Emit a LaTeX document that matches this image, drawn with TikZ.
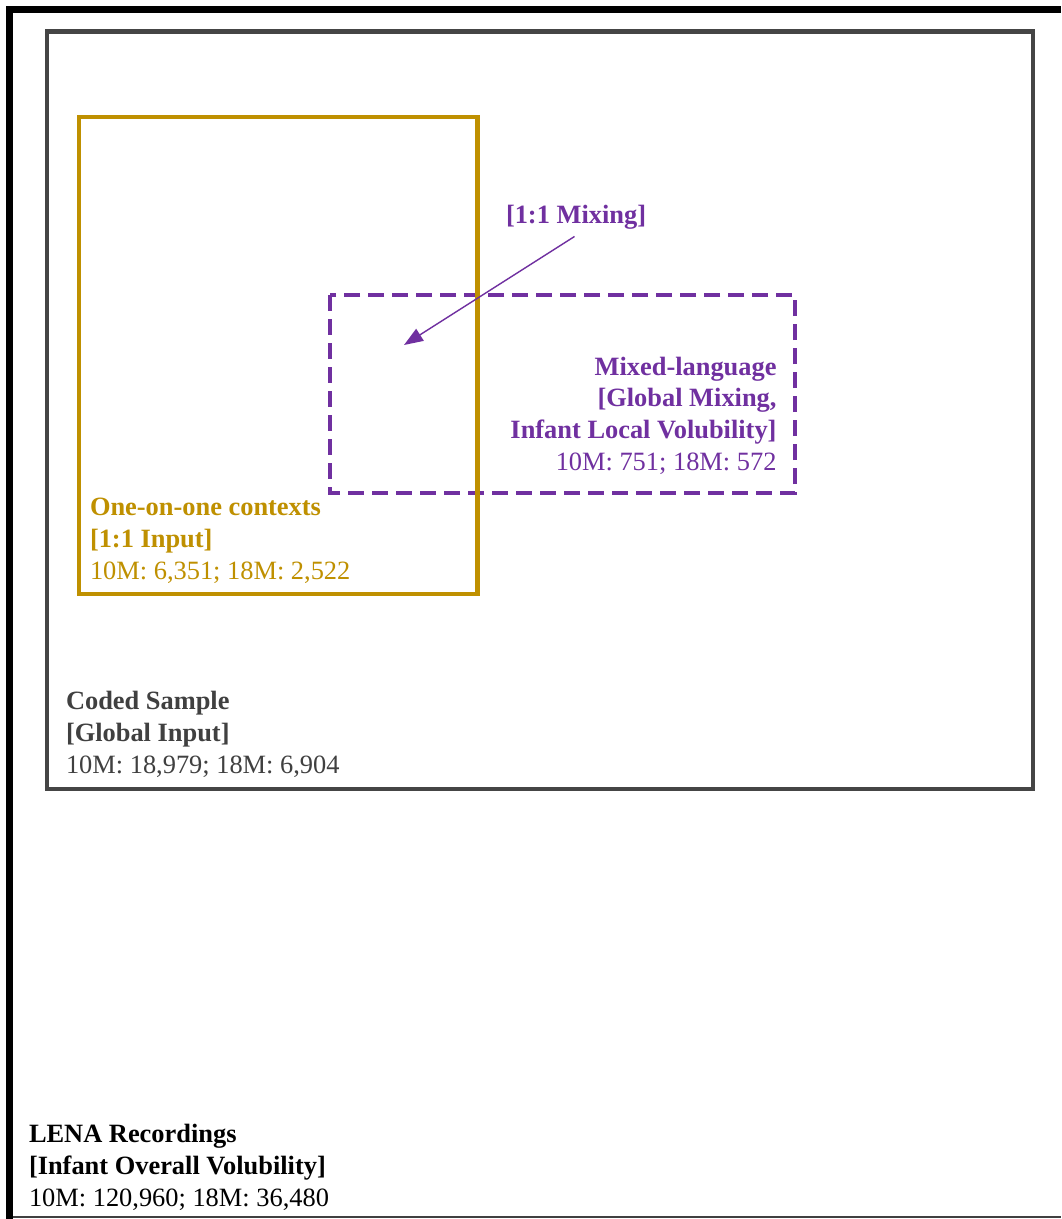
\documentclass[tikz,border=0pt]{standalone}
\usepackage{fontspec}
\setmainfont{Liberation Serif}
\usetikzlibrary{arrows.meta}
\definecolor{framegray}{HTML}{454545}
\definecolor{goldc}{HTML}{BF9000}
\definecolor{purplec}{HTML}{7030A0}
\definecolor{textgray}{HTML}{404040}
\tikzset{
  lbl/.style={inner sep=0pt, outer sep=0pt, font=\fontsize{26.4}{31.8}\selectfont},
}
\begin{document}
\begin{tikzpicture}[x=1pt,y=-1pt]
\useasboundingbox (0,0) rectangle (1061,1219);
\fill[white] (0,0) rectangle (1061,1219);
% outer frame (partly outside the page)
\fill[black] (6,6) rectangle (1061,13.3);
\fill[black] (6,6) rectangle (13.3,1219);
\fill[black!75] (13.3,1215.6) rectangle (1061,1217.6);
% coded sample box
\draw[framegray, line width=4.3pt] (47,31.5) rectangle (1033,789);
% mixed-language dashed box
\draw[purplec, line width=4pt, dash pattern=on 16pt off 8pt] (330,295) rectangle (795,493);
% one-on-one box
\draw[goldc, line width=4.3pt] (78.7,117) rectangle (477.5,594);
% texts (base anchor = baseline of last line)
\node[lbl, anchor=base west, align=left] (lena) at (29,1206)
  {\textbf{LENA Recordings}\\\textbf{[Infant Overall Volubility]}\\10M: 120,960; 18M: 36,480};
\node[lbl, anchor=base west, align=left, text=textgray] (coded) at (66,773)
  {\textbf{Coded Sample}\\\textbf{[Global Input]}\\10M: 18,979; 18M: 6,904};
\node[lbl, anchor=base west, align=left, text=goldc] (one) at (90,579)
  {\textbf{One-on-one contexts}\\\textbf{[1:1 Input]}\\10M: 6,351; 18M: 2,522};
\node[lbl, anchor=base east, align=right, text=purplec] (mixed) at (776.5,470.4)
  {\textbf{Mixed-language}\\\textbf{[Global Mixing,}\\\textbf{Infant Local Volubility]}\\10M: 751; 18M: 572};
\node[lbl, anchor=base west, text=purplec, font=\fontsize{26.4}{31.8}\selectfont\bfseries] (mix11) at (506,223) {[1:1 Mixing]};
% arrow
\coordinate (as) at (574.5,236.5);
\coordinate (ae) at (404,345);
\draw[purplec, line width=1.4pt, -{Triangle[length=19pt,width=14pt]}] (as) -- (ae);
\end{tikzpicture}
\end{document}
